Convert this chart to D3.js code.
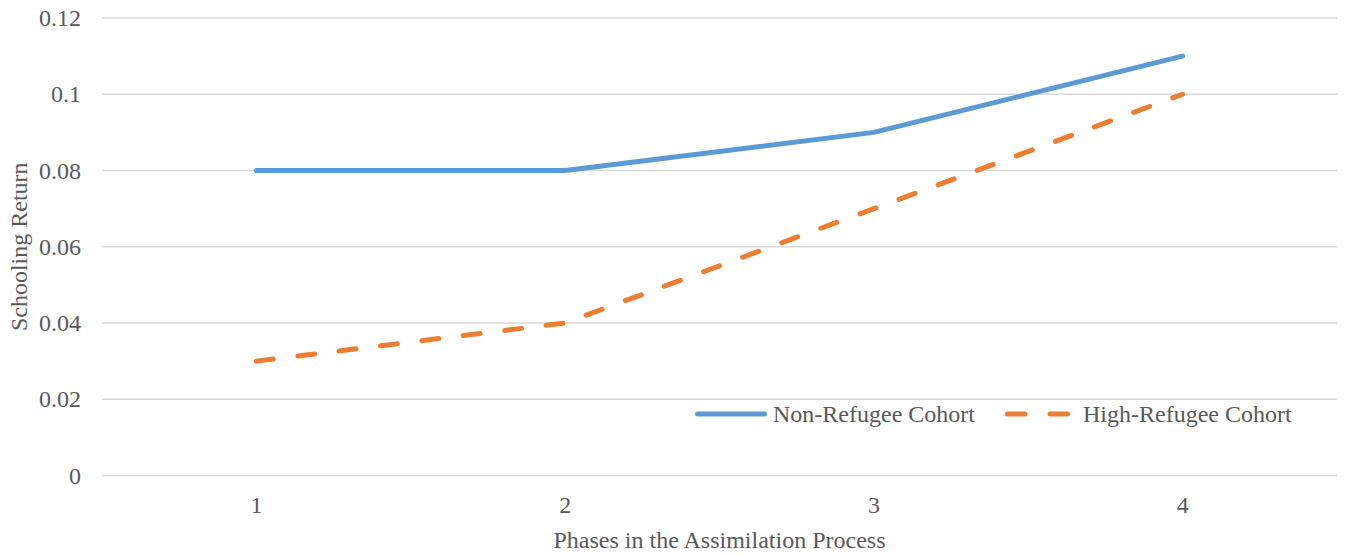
<!DOCTYPE html>
<html>
<head>
<meta charset="utf-8">
<script src="https://cdn.jsdelivr.net/npm/d3@7"></script>
<style>
  html, body { margin: 0; padding: 0; background: #fff; }
  svg { display: block; }
  text { font-family: "Liberation Serif", "Times New Roman", serif; fill: #595959; }
</style>
</head>
<body>
<svg id="chart" width="1349" height="555"></svg>
<script>
const categories = ["1", "2", "3", "4"];
const nonRefugee = [0.08, 0.08, 0.09, 0.11];
const highRefugee = [0.03, 0.04, 0.07, 0.10];
const yTicks = [0, 0.02, 0.04, 0.06, 0.08, 0.1, 0.12];
const seriesNames = ["Non-Refugee Cohort", "High-Refugee Cohort"];
const xTitle = "Phases in the Assimilation Process";
const yTitle = "Schooling Return";

const svg = d3.select("#chart");
const plotLeft = 102, plotRight = 1337, plotTop = 18, plotBottom = 475.5;

const x = d3.scalePoint().domain(categories).range([plotLeft, plotRight]).padding(0.5);
const y = d3.scaleLinear().domain([0, 0.12]).range([plotBottom, plotTop]);

// gridlines
svg.append("g").selectAll("line").data(yTicks).join("line")
  .attr("x1", plotLeft).attr("x2", plotRight)
  .attr("y1", d => y(d)).attr("y2", d => y(d))
  .attr("stroke", "#d9d9d9").attr("stroke-width", 1.3);

// y tick labels
const fmt = d => d === 0 ? "0" : String(+d.toFixed(2));
svg.append("g").selectAll("text").data(yTicks).join("text")
  .attr("x", 81).attr("y", d => y(d) + 8)
  .attr("text-anchor", "end").attr("font-size", 24)
  .text(fmt);

// x tick labels
svg.append("g").selectAll("text").data(categories).join("text")
  .attr("x", d => x(d)).attr("y", 513)
  .attr("text-anchor", "middle").attr("font-size", 24)
  .text(d => d);

// axis titles
svg.append("text").attr("x", (plotLeft + plotRight) / 2).attr("y", 548)
  .attr("text-anchor", "middle").attr("font-size", 24).text(xTitle);
svg.append("text")
  .attr("transform", `translate(27,${(plotTop + plotBottom) / 2}) rotate(-90)`)
  .attr("text-anchor", "middle").attr("font-size", 24).text(yTitle);

const line = d3.line().x((d, i) => x(categories[i])).y(d => y(d));

svg.append("path").datum(nonRefugee).attr("d", line)
  .attr("fill", "none").attr("stroke", "#5b9bd5").attr("stroke-width", 5)
  .attr("stroke-linecap", "round").attr("stroke-linejoin", "round");

svg.append("path").datum(highRefugee).attr("d", line)
  .attr("fill", "none").attr("stroke", "#ed7d31").attr("stroke-width", 5)
  .attr("stroke-linecap", "round").attr("stroke-linejoin", "round")
  .attr("stroke-dasharray", "17,24.7");

// legend
const ly = 414;
svg.append("line").attr("x1", 697.5).attr("x2", 764.5).attr("y1", ly).attr("y2", ly)
  .attr("stroke", "#5b9bd5").attr("stroke-width", 5).attr("stroke-linecap", "round");
svg.append("text").attr("x", 773).attr("y", ly + 8).attr("font-size", 24).text(seriesNames[0]);
svg.append("line").attr("x1", 1007.5).attr("x2", 1067.5).attr("y1", ly).attr("y2", ly)
  .attr("stroke", "#ed7d31").attr("stroke-width", 5).attr("stroke-linecap", "round")
  .attr("stroke-dasharray", "17.5,25");
svg.append("text").attr("x", 1083).attr("y", ly + 8).attr("font-size", 24).text(seriesNames[1]);
</script>
</body>
</html>
